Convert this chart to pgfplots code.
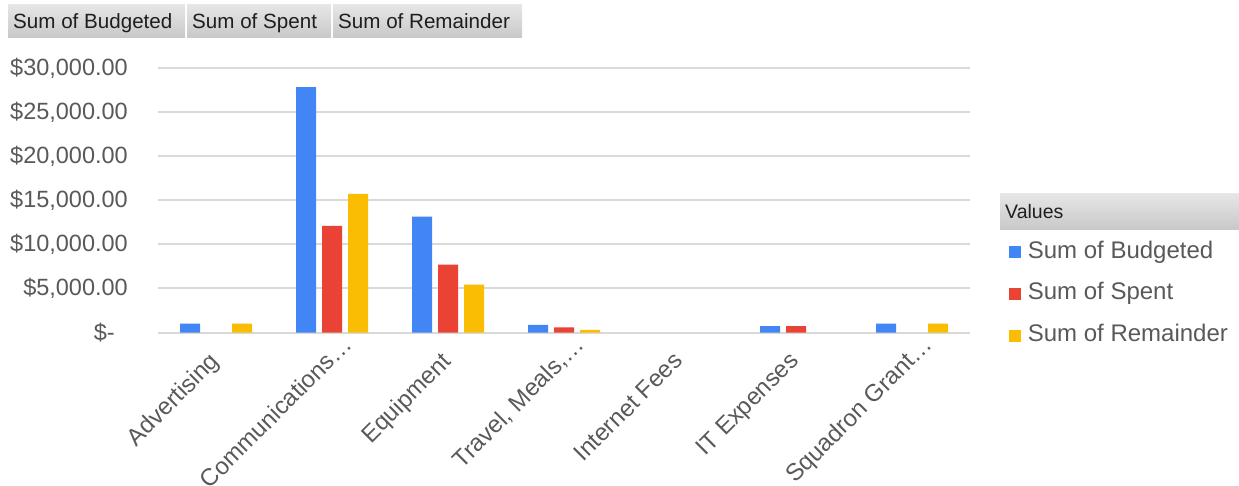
\documentclass[border=0pt]{standalone}
\usepackage{fontspec}
\setmainfont{Liberation Sans}
\usepackage{pgfplots}
\usepackage{pgfplotstable}
\pgfplotsset{compat=1.18}
\definecolor{cB}{HTML}{4285F4}
\definecolor{cS}{HTML}{EA4335}
\definecolor{cR}{HTML}{FBBC04}
\definecolor{txt}{HTML}{595959}
\definecolor{grd}{HTML}{D9D9D9}
\definecolor{btop}{HTML}{E6E6E6}
\definecolor{bbot}{HTML}{C8C8C8}
\definecolor{btxt}{HTML}{1E1E1E}

% nan = no bar (value 0 in the source)
\pgfplotstableread{
idx B S R
0 1000 nan 1000
1 27850 12100 15750
2 13150 7720 5430
3 880 580 300
4 nan nan nan
5 720 720 nan
6 1000 nan 1000
}\data

\begin{document}
\begin{tikzpicture}
\path[use as bounding box] (0pt,0pt) rectangle (1239pt,-486pt);
% field buttons
\foreach \xa/\xb/\t in {8/185/Sum of Budgeted, 187/331/Sum of Spent, 333/522/Sum of Remainder}{
  \shade[top color=btop,bottom color=bbot] (\xa pt,-5pt) rectangle (\xb pt,-38pt);
  \node[anchor=base west, inner sep=0pt, font=\fontsize{20.6}{24}\selectfont, text=btxt] at (\xa pt+5pt,-29pt) {\t};
}
% legend header
\shade[top color=btop,bottom color=bbot] (1000pt,-194pt) rectangle (1239pt,-230pt);
\node[anchor=base west, inner sep=0pt, font=\fontsize{19.5}{24}\selectfont, text=btxt] at (1005pt,-219pt) {Values};

\begin{axis}[
  at={(158pt,-332.5pt)}, anchor=south west,
  scale only axis, width=812pt, height=264.2pt,
  xmin=-0.5, xmax=6.5, ymin=0, ymax=30000,
  ybar=6pt, bar width=20pt,
  axis x line*=bottom, axis y line*=left,
  x axis line style={draw=grd, line width=2pt, -},
  y axis line style={draw=none},
  major tick length=0pt,
  ymajorgrids, grid style={draw=grd, line width=2pt},
  scaled y ticks=false,
  ytick={0,5000,10000,15000,20000,25000,30000},
  yticklabels={{\$-\hspace*{13pt}},{\$5,000.00},{\$10,000.00},{\$15,000.00},{\$20,000.00},{\$25,000.00},{\$30,000.00}},
  yticklabel style={font=\fontsize{23.5}{28}\selectfont, text=txt, anchor=east, inner sep=0pt, xshift=-30pt},
  xtick={0,1,2,3,4,5,6},
  xticklabels={Advertising, Communications\rlap{…}, Equipment, {Travel, Meals,\rlap{…}}, Internet Fees, IT Expenses, Squadron Grant\rlap{…}},
  xticklabel style={xshift=-8pt, yshift=-18pt, font=\fontsize{24}{28}\selectfont, text=txt, rotate=45, anchor=north east, inner sep=0pt},
  legend style={at={(1.0476,0.3463)}, anchor=north west, draw=none, fill=none, inner sep=0pt,
    row sep=19.7pt, nodes={inner sep=0pt, text height=17pt, text depth=5pt, font=\fontsize{24}{28}\selectfont, text=txt},
    /tikz/every odd column/.style={column sep=7pt}},
  legend cell align=left,
  legend image code/.code={\fill[#1] (0pt,-6pt) rectangle (12pt,6pt);},
  clip=false,
]
\addplot[fill=cB, draw=none] table[x=idx,y=B]{\data};
\addplot[fill=cS, draw=none] table[x=idx,y=S]{\data};
\addplot[fill=cR, draw=none] table[x=idx,y=R]{\data};
\legend{Sum of Budgeted, Sum of Spent, Sum of Remainder}
\end{axis}
\end{tikzpicture}
\end{document}
